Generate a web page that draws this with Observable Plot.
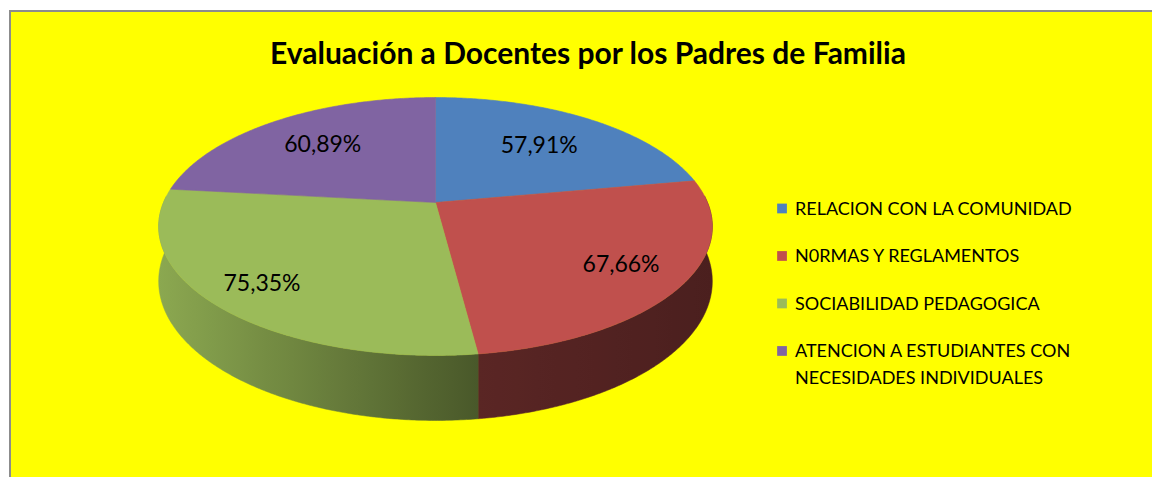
<!DOCTYPE html>
<html>
<head>
<meta charset="utf-8">
<script src="https://cdn.jsdelivr.net/npm/d3@7"></script>
<script src="https://cdn.jsdelivr.net/npm/@observablehq/plot@0.6"></script>
<style>
  html, body { margin: 0; padding: 0; background: #ffffff; width: 1152px; height: 477px; overflow: hidden; }
  #frame { position: absolute; left: 9px; top: 10px; width: 1143px; height: 467px; background: #ffff00;
           border-top: 2px solid #8c8c8c; border-left: 2px solid #8c8c8c; box-sizing: border-box; }
  #title { position: absolute; left: 24px; width: 1128px; top: 35px; text-align: center;
           font-family: Lato, "Open Sans", sans-serif; font-weight: 700; font-size: 30px; line-height: 34px; color: #000; }
  #plot { position: absolute; left: 0; top: 0; }
</style>
</head>
<body>
<div id="frame"></div>
<div id="title">Evaluación a Docentes por los Padres de Familia</div>
<div id="plot"></div>
<script>
// ---- data ----
const categories = [
  "RELACION CON LA COMUNIDAD",
  "N0RMAS Y REGLAMENTOS",
  "SOCIABILIDAD PEDAGOGICA",
  "ATENCION A ESTUDIANTES CON NECESIDADES INDIVIDUALES"
];
const values = [57.91, 67.66, 75.35, 60.89];
const valueLabels = ["57,91%", "67,66%", "75,35%", "60,89%"];
const colors = ["#4F81BD", "#C0504D", "#9BBB59", "#8064A2"];

// ---- 3D perspective pie geometry (unit circle projected) ----
const K = 0.186;     // perspective strength
const DEPTH = 0.425; // wall thickness in unit space
function proj(theta, r, depth) {
  const X = r * Math.sin(theta), Z = r * Math.cos(theta);
  const w = 1 + K * Z;
  return {x: X / w, y: (Z - depth) / w};
}
const arcs = d3.pie().sort(null).value(d => d)(values);
const step = Math.PI / 360;

// top faces
const topFaces = [];
arcs.forEach((a, i) => {
  const c = proj(0, 0, 0);
  topFaces.push({...c, i});
  const n = Math.max(2, Math.ceil((a.endAngle - a.startAngle) / step));
  for (let j = 0; j <= n; j++) {
    const t = a.startAngle + (a.endAngle - a.startAngle) * j / n;
    topFaces.push({...proj(t, 1, 0), i});
  }
  topFaces.push({...c, i});
});

// side walls (front half), one polygon per slice with a horizontal gradient
const shade = d3.scaleLinear().domain([-1.02, 0.16, 1.02]).range([0.9, 0.47, 0.39]).clamp(true);
const walls = [];
const wallGrads = [];
arcs.forEach((a, i) => {
  const lo = Math.max(a.startAngle, Math.PI / 2 - 0.05);
  const hi = Math.min(a.endAngle, 3 * Math.PI / 2 + 0.05);
  if (hi <= lo) return;
  const n = Math.max(2, Math.ceil((hi - lo) / step));
  const topPts = [], botPts = [];
  for (let j = 0; j <= n; j++) {
    const t = lo + (hi - lo) * j / n;
    topPts.push(proj(t, 1, 0));
    botPts.push(proj(t, 1, DEPTH));
  }
  const id = "wallgrad" + i;
  [...topPts, ...botPts.reverse(), topPts[0]].forEach(p => walls.push({...p, i, fill: `url(#${id})`}));
  const xs = topPts.map(p => p.x);
  wallGrads.push({id, x0: d3.min(xs), x1: d3.max(xs), base: colors[i]});
});

function gradientDefs(index, scales) {
  const ns = "http://www.w3.org/2000/svg";
  const xs = (scales && scales.x) ? scales.x : d3.scaleLinear([-1, 1], [163, 707]);
  const defs = document.createElementNS(ns, "defs");
  wallGrads.forEach(w => {
    const g = document.createElementNS(ns, "linearGradient");
    g.setAttribute("id", w.id);
    g.setAttribute("gradientUnits", "userSpaceOnUse");
    g.setAttribute("x1", xs(w.x0)); g.setAttribute("x2", xs(w.x1));
    g.setAttribute("y1", 0); g.setAttribute("y2", 0);
    const base = d3.rgb(w.base);
    for (let s = 0; s <= 12; s++) {
      const u = w.x0 + (w.x1 - w.x0) * s / 12;
      const f = shade(u);
      const stop = document.createElementNS(ns, "stop");
      stop.setAttribute("offset", s / 12);
      stop.setAttribute("stop-color", d3.rgb(base.r * f, base.g * f, base.b * f).formatHex());
      g.appendChild(stop);
    }
    defs.appendChild(g);
  });
  return defs;
}

// data labels
const labels = arcs.map((a, i) => {
  const mid = (a.startAngle + a.endAngle) / 2;
  const r = 0.72 - 0.09 * Math.cos(mid) + 0.04 * Math.max(0, -Math.sin(mid));
  return {...proj(mid, r, 0), text: valueLabels[i]};
});

// legend
function wrap(s, maxLen) {
  const words = s.split(" "), lines = [];
  let cur = "";
  for (const w of words) {
    if (cur && (cur + " " + w).length > maxLen) { lines.push(cur); cur = w; }
    else cur = cur ? cur + " " + w : w;
  }
  if (cur) lines.push(cur);
  return lines.join("\n");
}
const legendX = 1.274, legendY0 = -0.048, legendStep = -0.3815;
const legend = categories.map((c, i) => ({
  x: legendX, y: legendY0 + i * legendStep, text: wrap(c, 26), col: colors[i]
}));

const font = "Lato, 'Open Sans', sans-serif";
const chart = Plot.plot({
  width: 1152,
  height: 477,
  margin: 0,
  x: {domain: [-1, 1], range: [163, 707], axis: null},
  y: {domain: [-1, 1], range: [326.5, 77.5], axis: null},
  color: {type: "identity"},
  style: {background: "transparent", overflow: "visible"},
  marks: [
    gradientDefs,
    Plot.line(walls, {x: "x", y: "y", z: "i", fill: "fill", stroke: "fill", strokeWidth: 0.5, curve: "linear"}),
    Plot.line(topFaces, {x: "x", y: "y", z: "i", fill: d => colors[d.i], stroke: d => colors[d.i], strokeWidth: 0.6, curve: "linear"}),
    Plot.text(labels, {x: "x", y: "y", text: "text", fontSize: 23, fontFamily: font, fill: "#000"}),
    Plot.dot(legend, {x: "x", y: "y", symbol: "square", r: 5.5, fill: "col", stroke: null}),
    Plot.text(legend, {x: "x", y: "y", text: "text", textAnchor: "start", lineAnchor: "top", dx: 13, dy: -13,
                       lineHeight: 1.5, fontSize: 18, fontFamily: font, fill: "#000"})
  ]
});
document.getElementById("plot").appendChild(chart);
</script>
</body>
</html>
